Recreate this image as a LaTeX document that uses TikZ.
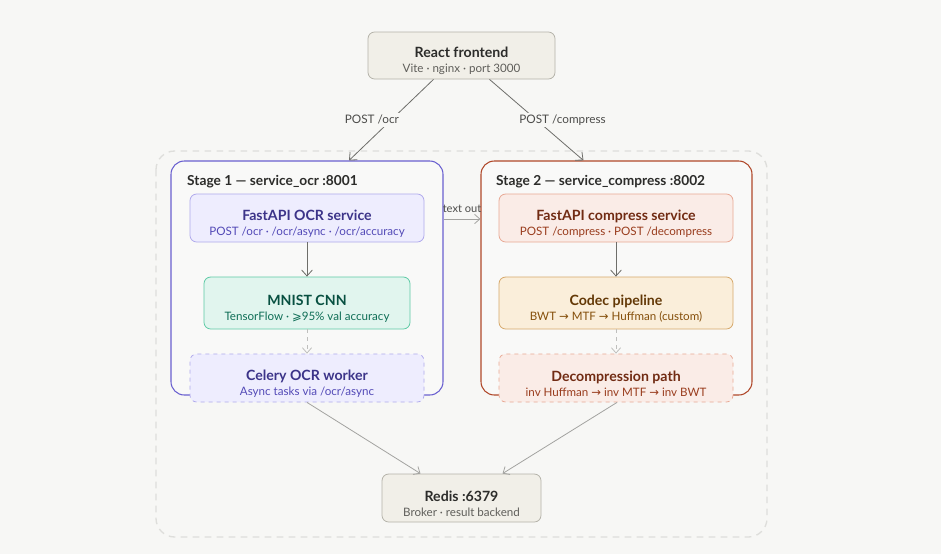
\documentclass[tikz,border=0pt]{standalone}
\usepackage{fontspec}
\setmainfont{Lato}
\newfontfamily\symf{DejaVu Sans}
\usetikzlibrary{arrows.meta,calc}
\definecolor{bg}{HTML}{F7F7F5}
\definecolor{nfill}{HTML}{F1EFE8}
\definecolor{ndraw}{HTML}{B4B2A9}
\definecolor{ntitle}{HTML}{2C2C2A}
\definecolor{nsub}{HTML}{5F5E5A}
\definecolor{pfill}{HTML}{EEEDFE}
\definecolor{pdraw}{HTML}{AFA9EC}
\definecolor{ptitle}{HTML}{3C3489}
\definecolor{psub}{HTML}{534AB7}
\definecolor{pstage}{HTML}{6A60D0}
\definecolor{tfill}{HTML}{E1F5EE}
\definecolor{tdraw}{HTML}{5DCAA5}
\definecolor{ttitle}{HTML}{085041}
\definecolor{tsub}{HTML}{0F6E56}
\definecolor{cfill}{HTML}{FAECE7}
\definecolor{cdraw}{HTML}{E8A894}
\definecolor{ctitle}{HTML}{712B13}
\definecolor{csub}{HTML}{993C1D}
\definecolor{cstage}{HTML}{B0482A}
\definecolor{afill}{HTML}{FAEEDA}
\definecolor{adraw}{HTML}{D6A86A}
\definecolor{atitle}{HTML}{633806}
\definecolor{asub}{HTML}{854F0B}
\definecolor{arr}{HTML}{6E6E6A}
\definecolor{arrl}{HTML}{A3A3A0}
\definecolor{outer}{HTML}{DEDEDB}
\tikzset{
  box/.style={draw, rounded corners=5pt, line width=0.6pt, inner sep=0pt, align=center, minimum width=175.5pt, minimum height=36pt},
  stagebox/.style={draw, rounded corners=10pt, line width=0.8pt, inner sep=0pt, fill=white!30!bg, minimum width=204pt, minimum height=175.5pt},
  ttl/.style={font=\fontsize{10.3}{12}\selectfont\bfseries},
  conn/.style={draw=arr, line width=0.6pt, -{Straight Barb[length=4.5pt,width=8pt]}},
  connl/.style={draw=arrl, line width=0.6pt, -{Straight Barb[length=4pt,width=7pt]}},
  lbl/.style={fill=bg, inner sep=1.5pt, font=\fontsize{8.8}{10}\selectfont, text=ntitle!85!white}
}
\newcommand{\two}[4]{{\color{#1}\fontsize{10.6}{11.4}\selectfont\bfseries\rule{0pt}{16.3pt}#3}\\[-0.8pt]{\color{#2}\fontsize{8.7}{11.4}\selectfont #4}}
\begin{document}
\begin{tikzpicture}[x=0.75pt,y=-0.75pt]
\fill[bg] (0,0) rectangle (941,554);
\useasboundingbox (0,0) rectangle (941,554);
% outer dashed group
\draw[outer, line width=1pt, dash pattern=on 5pt off 4pt, rounded corners=14pt] (156,151) rectangle (767,537);
% stages
\node[stagebox, draw=pstage] (s1) at (307,278) {};
\node[stagebox, draw=cstage, minimum width=203.25pt] (s2) at (616.5,278) {};
\node[anchor=west, ttl, text=ntitle] (s1t) at (182.5,182) {Stage 1 — service\_ocr :8001};
\node[anchor=west, ttl, text=ntitle] (s2t) at (491.5,182) {Stage 2 — service\_compress :8002};
% top
\node[box, fill=nfill, draw=ndraw, minimum width=140.25pt, minimum height=35.25pt] (react) at (461.5,55.5) {\two{ntitle}{nsub}{React frontend}{Vite · nginx · port 3000}};
% stage 1 nodes
\node[box, fill=pfill, draw=pdraw] (ocr) at (307,218) {\two{ptitle}{psub}{FastAPI OCR service}{POST /ocr · /ocr/async · /ocr/accuracy}};
\node[box, fill=tfill, draw=tdraw, minimum width=154.5pt, minimum height=39pt] (cnn) at (307,303) {\two{ttitle}{tsub}{MNIST CNN}{TensorFlow · {\symf ⩾}95\% val accuracy}};
\node[box, fill=pfill, draw=pdraw, dashed] (cel) at (307,378) {\two{ptitle}{psub}{Celery OCR worker}{Async tasks via /ocr/async}};
% stage 2 nodes
\node[box, fill=cfill, draw=cdraw] (cmp) at (616,218) {\two{ctitle}{csub}{FastAPI compress service}{POST /compress · POST /decompress}};
\node[box, fill=afill, draw=adraw, minimum height=39pt] (codec) at (616,303) {\two{atitle}{asub}{Codec pipeline}{BWT {\symf →} MTF {\symf →} Huffman (custom)}};
\node[box, fill=cfill, draw=cdraw, dashed] (dec) at (616,378) {\two{ctitle}{csub}{Decompression path}{inv Huffman {\symf →} inv MTF {\symf →} inv BWT}};
% redis
\node[box, fill=nfill, draw=ndraw, minimum width=119.25pt] (redis) at (461.5,498) {\two{ntitle}{nsub}{Redis :6379}{Broker · result backend}};
% connectors
\draw[conn] ($(react.south)+(-28,0)$) -- node[lbl, xshift=-14.5pt] (l1) {POST /ocr} ($(s1.north)+(42,0)$);
\draw[conn] ($(react.south)+(28,0)$) -- node[lbl, xshift=19.5pt] (l2) {POST /compress} ($(s2.north)+(-33,0)$);
\draw[connl] ($(s1.east)+(0,-59)$) -- ($(s2.west)+(0,-59)$) node[midway, above=3.5pt, font=\fontsize{8.3}{10}\selectfont, text=ntitle!85!white, inner sep=1pt] (l3) {text out};
\draw[conn] (ocr) -- (cnn);
\draw[connl, dashed, draw=arrl!70!white] (cnn) -- (cel);
\draw[conn] (cmp) -- (codec);
\draw[connl, dashed, draw=arrl!70!white] (codec) -- (dec);
\draw[connl] (cel.south) -- ($(redis.north)+(-41,0)$);
\draw[connl] ($(dec.south)+(1,0)$) -- ($(redis.north)+(41,0)$);
\end{tikzpicture}
\end{document}
